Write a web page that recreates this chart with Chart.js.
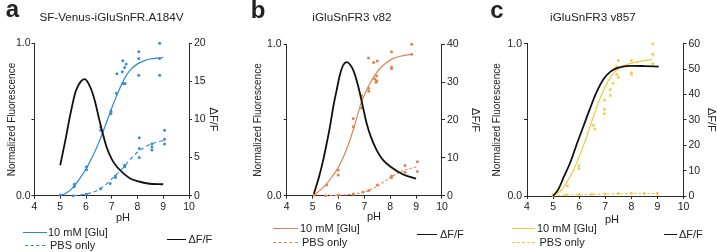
<!DOCTYPE html>
<html><head><meta charset="utf-8">
<script src="https://cdn.jsdelivr.net/npm/chart.js@4"></script>
<style>
html,body{margin:0;padding:0;background:#fff;}
#wrap{position:relative;width:717px;height:252px;overflow:hidden;font-family:"Liberation Sans",Arial,sans-serif;color:#222;}
canvas{position:absolute;left:0;top:0;}
.t{position:absolute;white-space:nowrap;line-height:1;}
.c{transform:translate(-50%,-50%);}
.l{transform:translateY(-50%);}
.ln{position:absolute;height:0;width:0;}
.let{font-weight:bold;font-size:24px;}
.ttl{font-size:11.7px;}
.ph{font-size:11px;}
.lg{font-size:11px;}
</style></head><body>
<div id="wrap">
<canvas id="ca" width="717" height="252"></canvas>
<canvas id="cb" width="717" height="252"></canvas>
<canvas id="cc" width="717" height="252"></canvas>

<div class="t c let" style="left:12.5px;top:9px">a</div>
<div class="t c let" style="left:258px;top:10px">b</div>
<div class="t c let" style="left:497px;top:10px">c</div>

<div class="t c ttl" style="left:111.5px;top:16.5px">SF-Venus-iGluSnFR.A184V</div>
<div class="t c ttl" style="left:352px;top:17px">iGluSnFR3 v82</div>
<div class="t c ttl" style="left:593px;top:17px">iGluSnFR3 v857</div>

<div class="t c ph" style="left:123px;top:216.5px">pH</div>
<div class="t c ph" style="left:374px;top:216px">pH</div>
<div class="t c ph" style="left:612px;top:218.5px">pH</div>

<!-- legend a -->
<div class="ln" style="left:22.5px;top:232px;width:24px;border-top:1.3px solid #2f86d6"></div>
<div class="t l lg" style="left:48px;top:232.3px">10 mM [Glu]</div>
<div class="ln" style="left:25px;top:245px;width:20px;border-top:1.3px dashed #2f86d6"></div>
<div class="t l lg" style="left:50px;top:245px">PBS only</div>
<div class="ln" style="left:166.5px;top:239px;width:19px;border-top:1.6px solid #111"></div>
<div class="t l lg" style="left:188.5px;top:239.3px">ΔF/F</div>
<!-- legend b -->
<div class="ln" style="left:273px;top:228px;width:25px;border-top:1.2px solid #dc8656"></div>
<div class="t l lg" style="left:300px;top:228.3px">10 mM [Glu]</div>
<div class="ln" style="left:273px;top:241.5px;width:25px;border-top:1px dashed #dc8656"></div>
<div class="t l lg" style="left:302px;top:241.7px">PBS only</div>
<div class="ln" style="left:417px;top:234px;width:20px;border-top:1.6px solid #111"></div>
<div class="t l lg" style="left:440px;top:234.3px">ΔF/F</div>
<!-- legend c -->
<div class="ln" style="left:512px;top:228px;width:23px;border-top:1.2px solid #ecc93a"></div>
<div class="t l lg" style="left:537px;top:228.3px">10 mM [Glu]</div>
<div class="ln" style="left:512px;top:241.5px;width:23px;border-top:1px dashed #ecc93a"></div>
<div class="t l lg" style="left:539.5px;top:241.7px">PBS only</div>
<div class="ln" style="left:664px;top:234px;width:13px;border-top:1.6px solid #111"></div>
<div class="t l lg" style="left:679px;top:234.3px">ΔF/F</div>
</div>

<script>
// ---------- shared axis ticks ----------
const xTicks = [4, 5, 6, 7, 8, 9, 10];
const leftTicks = [0, 0.5, 1.0];
const rightTicksA = [0, 5, 10, 15, 20];
const rightTicksB = [0, 10, 20, 30, 40];
const rightTicksC = [0, 10, 20, 30, 40, 50, 60];

// ---------- panel a : SF-Venus-iGluSnFR.A184V ----------
const aGluPH  = [5.0, 5.55, 5.55, 6.02, 6.02, 6.57, 6.57, 6.97, 6.97, 7.18, 7.2, 7.41, 7.43, 7.45, 7.5, 7.52, 7.56, 8.05, 8.05, 8.05, 8.86, 8.86, 8.86];
const aGluVal = [0.005, 0.075, 0.06, 0.19, 0.17, 0.45, 0.43, 0.555, 0.54, 0.672, 0.80, 0.814, 0.886, 0.737, 0.842, 0.737, 0.864, 0.945, 0.90, 0.79, 1.0, 0.90, 0.79];
const aPbsPH  = [5.5, 6.0, 6.57, 6.94, 7.14, 7.14, 7.5, 7.5, 8.07, 8.07, 8.07, 8.56, 8.56, 8.56, 9.05, 9.05, 9.05];
const aPbsVal = [0.0, 0.01, 0.045, 0.08, 0.13, 0.12, 0.20, 0.19, 0.38, 0.31, 0.25, 0.34, 0.32, 0.30, 0.43, 0.37, 0.34];
const aGluFitPH  = [5.0, 5.25, 5.5, 5.75, 6.0, 6.25, 6.5, 6.75, 7.0, 7.25, 7.5, 7.75, 8.0, 8.25, 8.5, 8.75, 9.0];
const aGluFitVal = [0.0, 0.02, 0.055, 0.11, 0.175, 0.255, 0.35, 0.46, 0.575, 0.68, 0.77, 0.83, 0.865, 0.885, 0.897, 0.903, 0.906];
const aPbsFitPH  = [5.5, 6.0, 6.25, 6.5, 6.75, 7.0, 7.25, 7.5, 7.75, 8.0, 8.25, 8.5, 8.75, 9.0];
const aPbsFitVal = [0.0, 0.01, 0.022, 0.04, 0.07, 0.11, 0.15, 0.195, 0.245, 0.285, 0.315, 0.338, 0.352, 0.362];
const aDffPH  = [5.0, 5.2, 5.4, 5.6, 5.8, 5.95, 6.1, 6.3, 6.55, 6.8, 7.0, 7.2, 7.5, 7.7, 8.0, 8.4, 9.0];
const aDffVal = [4.0, 7.3, 10.8, 13.7, 15.0, 15.3, 14.7, 13.0, 9.5, 6.4, 4.8, 3.8, 2.8, 2.3, 1.9, 1.6, 1.5];

// ---------- panel b : iGluSnFR3 v82 ----------
const bGluPH  = [5.07, 5.54, 5.99, 5.99, 6.57, 6.57, 6.89, 6.89, 7.16, 7.17, 7.17, 7.36, 7.4, 7.45, 7.48, 7.48, 7.5, 8.05, 8.05, 8.05, 8.83, 8.83];
const bGluVal = [0.01, 0.07, 0.17, 0.137, 0.51, 0.456, 0.66, 0.58, 0.91, 0.71, 0.69, 0.88, 0.77, 0.75, 0.79, 0.76, 0.89, 0.95, 0.85, 0.84, 1.0, 0.935];
const bPbsPH  = [5.07, 5.5, 6.0, 6.57, 6.95, 7.17, 7.5, 8.05, 8.05, 8.57, 8.57, 9.05, 9.05];
const bPbsVal = [0.005, 0.0, 0.005, 0.012, 0.025, 0.035, 0.07, 0.12, 0.13, 0.20, 0.155, 0.225, 0.16];
const bGluFitPH  = [5.05, 5.25, 5.5, 5.75, 6.0, 6.3, 6.57, 6.75, 6.89, 7.05, 7.21, 7.4, 7.6, 7.85, 8.12, 8.5, 8.85];
const bGluFitVal = [0.0, 0.03, 0.07, 0.125, 0.19, 0.30, 0.434, 0.54, 0.62, 0.685, 0.74, 0.795, 0.84, 0.878, 0.907, 0.925, 0.935];
const bPbsFitPH  = [5.5, 6.0, 6.5, 7.0, 7.5, 8.0, 8.5, 9.0];
const bPbsFitVal = [0.0, 0.003, 0.01, 0.025, 0.062, 0.12, 0.165, 0.19];
const bDffPH  = [5.05, 5.25, 5.41, 5.55, 5.67, 5.8, 5.93, 6.05, 6.15, 6.25, 6.33, 6.45, 6.57, 6.7, 6.83, 6.96, 7.09, 7.25, 7.47, 7.7, 8.0, 8.5, 9.0];
const bDffVal = [0.5, 5.0, 9.4, 14.0, 18.2, 23.5, 27.9, 31.8, 34.0, 35.1, 35.3, 34.6, 33.2, 30.5, 27.0, 23.0, 19.1, 15.6, 12.1, 9.6, 7.7, 5.6, 4.5];

// ---------- panel c : iGluSnFR3 v857 ----------
const cGluPH  = [5.0, 5.55, 5.99, 5.99, 6.55, 6.6, 6.97, 6.97, 6.97, 7.19, 7.2, 7.3, 7.43, 7.5, 7.5, 7.44, 8.0, 8.0, 8.0, 8.82, 8.82, 8.82];
const cGluVal = [0.01, 0.065, 0.20, 0.18, 0.465, 0.44, 0.63, 0.57, 0.54, 0.70, 0.66, 0.74, 0.85, 0.89, 0.78, 0.80, 0.89, 0.81, 0.80, 1.0, 0.93, 0.87];
const cPbsPH  = [5.0, 5.5, 6.0, 6.5, 7.0, 7.5, 8.0, 8.5, 9.0];
const cPbsVal = [0.005, 0.008, 0.01, 0.012, 0.015, 0.016, 0.018, 0.017, 0.018];
const cGluFitPH  = [5.0, 5.33, 5.78, 6.29, 6.68, 7.06, 7.25, 7.45, 7.96, 8.4, 8.8];
const cGluFitVal = [0.0, 0.042, 0.171, 0.39, 0.587, 0.74, 0.79, 0.83, 0.87, 0.885, 0.895];
const cPbsFitPH  = [5.0, 6.0, 7.0, 8.0, 9.0];
const cPbsFitVal = [0.004, 0.009, 0.013, 0.016, 0.017];
const cDffPH  = [5.0, 5.2, 5.41, 5.65, 5.92, 6.16, 6.4, 6.65, 6.93, 7.2, 7.5, 8.0, 8.5, 9.05];
const cDffVal = [0, 2.6, 7.5, 13, 20.8, 27.4, 34, 40.5, 46, 49, 50.6, 51.3, 51.2, 51];

// ---------- helpers ----------
Chart.defaults.font.family = "'Liberation Sans', Arial, sans-serif";
const pairs = (xs, ys) => xs.map((x, i) => ({x: x, y: ys[i]}));
const AX = '#2a2a2a';

function makePanel(id, p) {
  const gridOpts = {display: true, drawOnChartArea: false, drawTicks: true, tickLength: 3, color: AX, lineWidth: 1};
  const borderOpts = {display: true, color: AX, width: 1};
  new Chart(document.getElementById(id), {
    type: 'scatter',
    data: {datasets: [
      {label: 'ΔF/F', data: pairs(p.dffX, p.dffY), yAxisID: 'y2', showLine: true, pointRadius: 0,
       borderColor: '#111', borderWidth: 1.8, cubicInterpolationMode: 'monotone', clip: false},
      {label: '10 mM [Glu] fit', data: pairs(p.gfX, p.gfY), showLine: true, pointRadius: 0,
       borderColor: p.line, borderWidth: 1.2, cubicInterpolationMode: 'monotone', clip: false},
      {label: 'PBS only fit', data: pairs(p.pfX, p.pfY), showLine: true, pointRadius: 0,
       borderColor: p.line, borderWidth: 1.1, borderDash: p.dash, cubicInterpolationMode: 'monotone', clip: false},
      {label: '10 mM [Glu]', data: pairs(p.gX, p.gY), showLine: false, pointRadius: 1.5,
       pointBackgroundColor: p.pt, pointBorderWidth: 0, clip: false},
      {label: 'PBS only', data: pairs(p.pX, p.pY), showLine: false, pointRadius: 1.5,
       pointBackgroundColor: p.pt, pointBorderWidth: 0, clip: false}
    ]},
    options: {
      responsive: false, animation: false, events: [],
      layout: {padding: {left: p.L - p.wl, right: 717 - p.R - p.wr, top: p.T, bottom: 252 - p.B - 20}},
      plugins: {legend: {display: false}, tooltip: {enabled: false}, title: {display: false}},
      scales: {
        x: {type: 'linear', position: 'bottom', min: 4, max: 10,
            afterBuildTicks: s => { s.ticks = xTicks.map(v => ({value: v})); },
            afterFit: s => { s.height = 20; },
            grid: gridOpts, border: borderOpts,
            ticks: {color: '#222', font: {size: 10.5}, padding: 2, maxRotation: 0, autoSkip: false}},
        y: {type: 'linear', position: 'left', min: 0, max: 1,
            afterBuildTicks: s => { s.ticks = leftTicks.map(v => ({value: v})); },
            afterFit: s => { s.width = p.wl; },
            grid: gridOpts, border: borderOpts,
            ticks: {color: '#222', font: {size: 10.5}, padding: p.ltp, autoSkip: false,
                    callback: v => (v === 0.5 ? '' : v.toFixed(1))},
            title: {display: true, text: 'Normalized Fluorescence', color: '#222',
                    font: {size: 10, lineHeight: 1}, padding: {top: p.ltitle, bottom: 0}}},
        y2: {type: 'linear', position: 'right', min: 0, max: p.rmax,
            afterBuildTicks: s => { s.ticks = p.rticks.map(v => ({value: v})); },
            afterFit: s => { s.width = p.wr; },
            grid: gridOpts, border: borderOpts,
            ticks: {color: '#222', font: {size: 10.5}, padding: 2, autoSkip: false, callback: v => String(v)},
            title: {display: true, text: 'ΔF/F', color: '#222',
                    font: {size: 11, lineHeight: 1}, padding: {top: p.rtitle, bottom: 0}}}
      }
    }
  });
}

makePanel('ca', {L: 34.5, R: 189, T: 43.3, B: 195.7, wl: 34.5, wr: 30, ltp: 1, ltitle: 7, rtitle: 0.5,
  rmax: 20, rticks: rightTicksA, line: '#2f86d6', pt: '#3a8ddb', dash: [4, 3],
  gX: aGluPH, gY: aGluVal, pX: aPbsPH, pY: aPbsVal, gfX: aGluFitPH, gfY: aGluFitVal,
  pfX: aPbsFitPH, pfY: aPbsFitVal, dffX: aDffPH, dffY: aDffVal});

makePanel('cb', {L: 286.7, R: 442, T: 44.3, B: 195.7, wl: 36, wr: 40, ltp: 2, ltitle: 2.3, rtitle: 1.5,
  rmax: 40, rticks: rightTicksB, line: '#dc8656', pt: '#e0844f', dash: [2.5, 2],
  gX: bGluPH, gY: bGluVal, pX: bPbsPH, pY: bPbsVal, gfX: bGluFitPH, gfY: bGluFitVal,
  pfX: bPbsFitPH, pfY: bPbsFitVal, dffX: bDffPH, dffY: bDffVal});

makePanel('cc', {L: 527, R: 683.5, T: 43.7, B: 196, wl: 36, wr: 33.5, ltp: 2, ltitle: 1, rtitle: 0,
  rmax: 60, rticks: rightTicksC, line: '#ecc93a', pt: '#efcf4f', dash: [2.5, 2],
  gX: cGluPH, gY: cGluVal, pX: cPbsPH, pY: cPbsVal, gfX: cGluFitPH, gfY: cGluFitVal,
  pfX: cPbsFitPH, pfY: cPbsFitVal, dffX: cDffPH, dffY: cDffVal});
</script>
</body></html>
